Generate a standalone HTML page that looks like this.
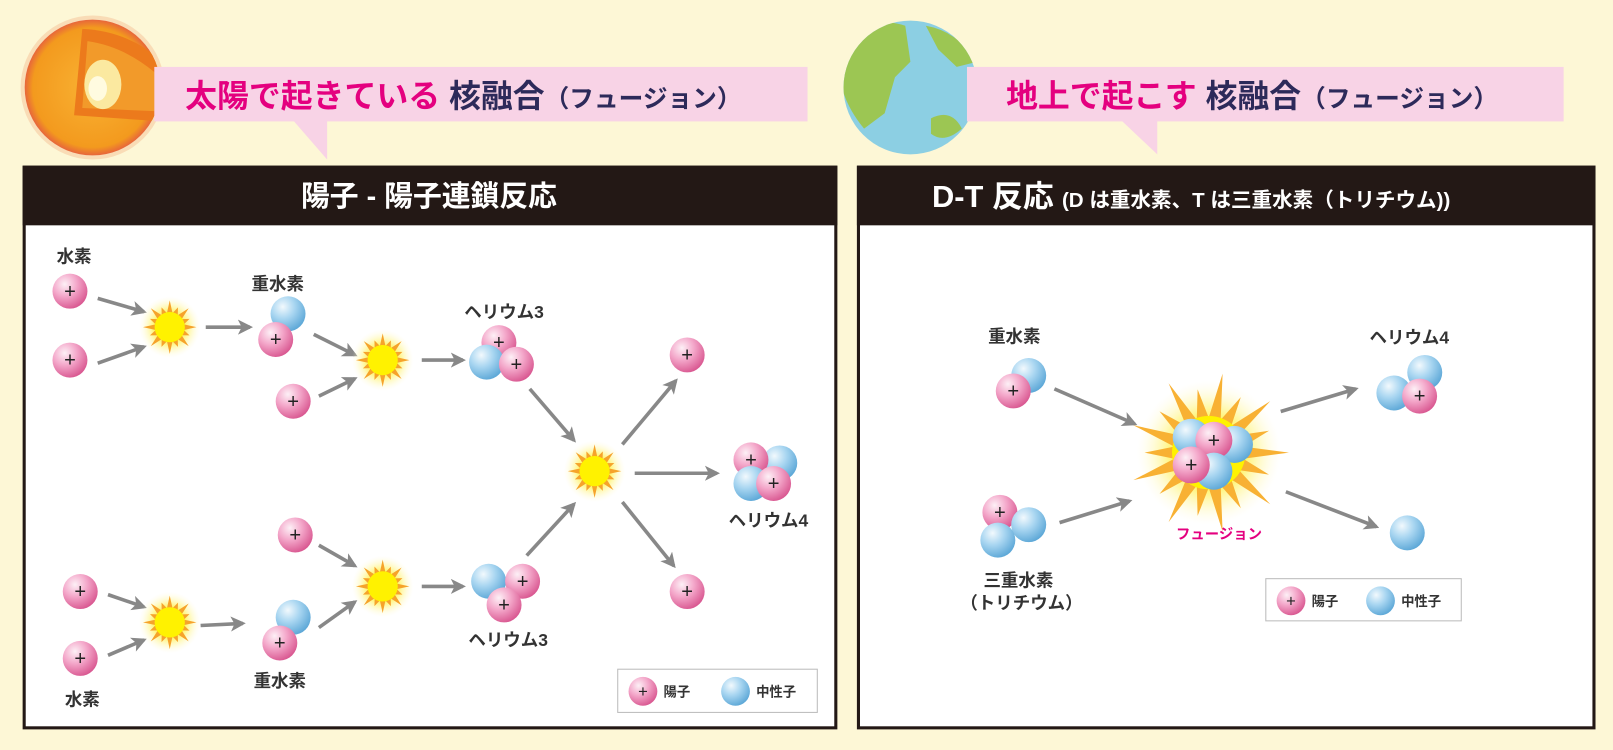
<!DOCTYPE html>
<html><head><meta charset="utf-8"><style>
html,body{margin:0;padding:0;background:#fdf7d6;}
svg{display:block;}
text{font-family:"Liberation Sans","Noto Sans CJK JP",sans-serif;}
</style></head><body>
<svg id="s" width="1613" height="750" viewBox="0 0 1568 729" xmlns="http://www.w3.org/2000/svg">
<defs>
<radialGradient id="gp" cx="0.35" cy="0.3" r="0.75"><stop offset="0" stop-color="#fdf0f6"/><stop offset="0.45" stop-color="#f4a9cb"/><stop offset="1" stop-color="#d8558f"/></radialGradient>
<radialGradient id="gn" cx="0.35" cy="0.3" r="0.75"><stop offset="0" stop-color="#f2f9fd"/><stop offset="0.45" stop-color="#a9d6f1"/><stop offset="1" stop-color="#5aa6d6"/></radialGradient>
<radialGradient id="glow"><stop offset="0" stop-color="#fff200"/><stop offset="0.5" stop-color="#fff46a"/><stop offset="1" stop-color="#fffbe0" stop-opacity="0"/></radialGradient>
<radialGradient id="sun" cx="0.5" cy="0.5" r="0.5"><stop offset="0" stop-color="#f9b233"/><stop offset="0.88" stop-color="#f39a1e"/><stop offset="1" stop-color="#e7663b"/></radialGradient>
<clipPath id="sc"><circle cx="90" cy="85" r="66"/></clipPath>
<clipPath id="ec"><circle cx="885" cy="85" r="65"/></clipPath>
<marker id="ah" viewBox="0 0 10 10" refX="8" refY="5" markerWidth="4.2" markerHeight="4.2" orient="auto"><path d="M0,0 L10,5 L0,10 L2.5,5z" fill="#888"/></marker>
</defs>
<rect width="1568" height="729" fill="#fdf7d6"/>
<!-- sun -->
<circle cx="90" cy="85" r="70" fill="#f7c9a0" opacity="0.6"/>
<circle cx="90" cy="85" r="66" fill="url(#sun)"/>
<g clip-path="url(#sc)">
<path d="M80,28 Q125,30 158,60 L158,118 L72,112 Z" fill="#ec7a1c"/>
<path d="M85,40 Q120,45 150,70 L150,108 L80,105 Z" fill="#f29a2a"/>
</g>
<ellipse cx="100" cy="82" rx="18" ry="24" fill="#fbe9a0"/>
<ellipse cx="95" cy="86" rx="9" ry="12" fill="#fffbe0"/>
<!-- earth -->
<circle cx="885" cy="85" r="65" fill="#8ccfe3"/>
<g clip-path="url(#ec)" fill="#9cc653">
<path d="M815,35 Q850,15 880,25 L885,60 L870,75 L860,110 L840,125 Q815,95 815,60 Z"/>
<path d="M900,25 Q930,30 950,60 L930,65 L912,48 Z"/>
<path d="M905,115 Q925,105 935,125 Q918,140 905,130 Z"/>
</g>
<!-- callouts -->
<rect x="150" y="65" width="635" height="53" fill="#f8d3e6"/>
<path d="M285,117 L318,117 L318,155 Z" fill="#f8d3e6"/>
<rect x="940" y="65" width="580" height="53" fill="#f8d3e6"/>
<path d="M1090,117 L1125,117 L1125,150 Z" fill="#f8d3e6"/>
<text x="180" y="104" font-size="31" font-weight="bold" fill="#e4007f">太陽で起きている <tspan fill="#2d2a5a">核融合</tspan><tspan fill="#2d2a5a" font-size="24">（フュージョン）</tspan></text>
<text x="978" y="104" font-size="31" font-weight="bold" fill="#e4007f">地上で起こす <tspan fill="#2d2a5a">核融合</tspan><tspan fill="#2d2a5a" font-size="24">（フュージョン）</tspan></text>
<!-- panels -->
<rect x="23.5" y="162.5" width="789" height="545" fill="#fff" stroke="#231815" stroke-width="3"/>
<rect x="22" y="161" width="792" height="58" fill="#231815"/>
<rect x="834.5" y="162.5" width="715" height="545" fill="#fff" stroke="#231815" stroke-width="3"/>
<rect x="833" y="161" width="718" height="58" fill="#231815"/>
<text x="417" y="200" font-size="28" font-weight="bold" fill="#fff" text-anchor="middle">陽子 - 陽子連鎖反応</text>
<text x="906" y="201" font-size="30" font-weight="bold" fill="#fff">D-T 反応<tspan font-size="20" dx="8">(D は重水素、T は三重水素（トリチウム))</tspan></text>
<rect x="600.5" y="650.5" width="194" height="42" fill="#fff" stroke="#bbb"/>
<rect x="1230.5" y="562.5" width="190" height="41" fill="#fff" stroke="#bbb"/>
<g id="g"></g>
<g font-size="17" font-weight="bold" fill="#333" text-anchor="middle">
<text x="72" y="255">水素</text>
<text x="270" y="282">重水素</text>
<text x="490" y="309">ヘリウム3</text>
<text x="747" y="512">ヘリウム4</text>
<text x="494" y="628">ヘリウム3</text>
<text x="272" y="668">重水素</text>
<text x="80" y="686">水素</text>
<text x="986" y="333">重水素</text>
<text x="1370" y="334">ヘリウム4</text>
<text x="990" y="570">三重水素</text>
<text x="993" y="592">（トリチウム）</text>
<text x="1185" y="524" fill="#e4007f" font-size="14">フュージョン</text>
</g>
<g font-size="13" font-weight="bold" fill="#333">
<text x="645" y="677">陽子</text><text x="735" y="677">中性子</text>
<text x="1275" y="589">陽子</text><text x="1362" y="589">中性子</text>
</g>
</svg>
<script>
var g=document.getElementById('g'),NS='http://www.w3.org/2000/svg';
function el(t,a){var e=document.createElementNS(NS,t);for(var k in a)e.setAttribute(k,a[k]);g.appendChild(e);return e;}
function P(x,y,r){r=r||17;el('circle',{cx:x,cy:y,r:r,fill:'url(#gp)'});var t=el('text',{x:x,y:y+r*0.38,'font-size':r*1.15,'text-anchor':'middle',fill:'#222'});t.textContent='+';}
function N(x,y,r){r=r||17;el('circle',{cx:x,cy:y,r:r,fill:'url(#gn)'});}
function A(x1,y1,x2,y2){el('line',{x1:x1,y1:y1,x2:x2,y2:y2,stroke:'#888','stroke-width':3.5,'marker-end':'url(#ah)'});}
function S(cx,cy,ro,ri,n,fill,glow){el('circle',{cx:cx,cy:cy,r:glow,fill:'url(#glow)'});var p=[];for(var i=0;i<2*n;i++){var a=Math.PI*i/n,r=i%2?ri:ro*(i%4==0?1:0.8);p.push((cx+r*Math.cos(a)).toFixed(1)+','+(cy+r*Math.sin(a)).toFixed(1));}el('polygon',{points:p.join(' '),fill:fill});el('circle',{cx:cx,cy:cy,r:ri*1.05,fill:'#fff200'});}
A(95,290,140,303);A(95,353,140,337);S(165,318,26,14,16,'#f6a32a',30);
A(200,318,243,318);
A(305,325,345,345);A(310,385,345,368);S(372,350,26,14,16,'#f6a32a',30);
A(410,350,450,350);
A(515,378,558,428);A(512,540,558,490);S(578,458,26,14,16,'#f6a32a',30);
A(605,432,657,370);A(617,460,697,460);A(605,488,655,550);
A(310,530,345,550);A(105,578,140,590);A(105,637,140,622);S(165,605,26,14,16,'#f6a32a',30);
A(195,608,236,606);A(310,610,345,585);S(372,570,26,14,16,'#f6a32a',30);A(410,570,450,570);
P(68,283);P(68,350);N(280,305);P(268,330);P(285,390);
P(485,333);N(473,352);P(502,354);
P(668,345);N(758,450);P(730,447);N(730,470);P(752,470);P(668,575);
P(287,520);P(78,575);P(78,640);N(285,600);P(272,625);
N(475,565);P(508,565);P(490,588);
P(625,672,14);N(715,672,14);
A(1025,378,1103,412);A(1030,508,1098,487);A(1245,400,1318,378);A(1250,478,1338,512);
S(1175,440,78,34,18,'#f8b133',70);
N(1158,425,18);N(1200,432,18);P(1180,428,18);N(1180,458,18);P(1158,452,18);
N(1000,365);P(985,380);P(972,498);N(1000,510);N(970,525);
N(1385,362);N(1355,382);P(1380,385);N(1368,518);
P(1255,584,14);N(1342,584,14);
</script>
</body></html>
